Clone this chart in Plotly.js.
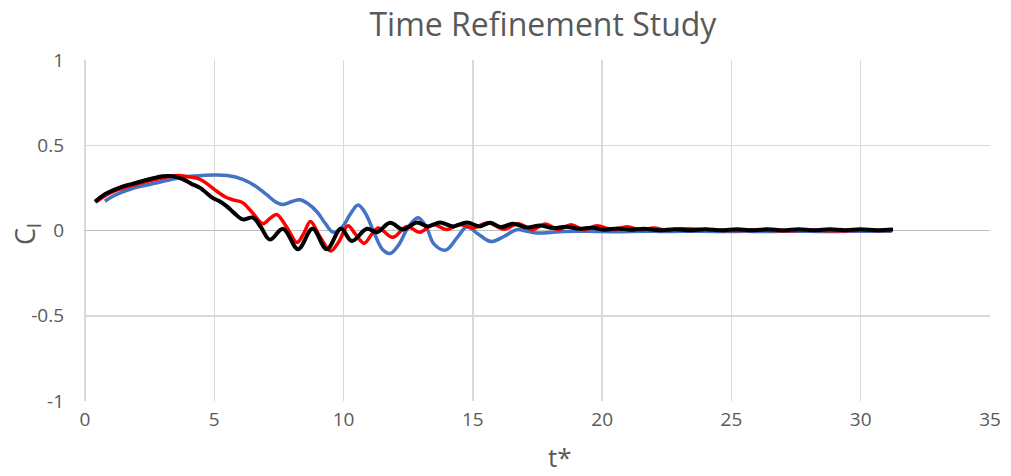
<!DOCTYPE html>
<html>
<head>
<meta charset="utf-8">
<script src="https://cdn.plot.ly/plotly-3.0.1.min.js"></script>
<style>html,body{margin:0;padding:0;background:#fff;}#chart{width:1011px;height:476px;}</style>
</head>
<body>
<div id="chart"></div>
<script>
// Series: coarse time step (blue)
const blueT  = [0.77,1.2,1.8,2.5,3.2,3.9,4.5,5.0,5.5,6.1,6.6,7.03,7.4,7.66,8.0,8.31,8.6,8.97,9.3,9.6,9.95,10.25,10.56,10.85,11.2,11.5,11.8,12.15,12.5,12.88,13.2,13.5,13.95,14.4,14.77,15.2,15.7,16.2,16.7,17.1,17.5,18.0,18.5,19.5,20.5,21.5,22.5,23.5,24.5,25.5,26.5,27.5,28.5,29.5,30.5,31.2];
const blueCl = [0.172,0.21,0.245,0.27,0.295,0.315,0.322,0.325,0.322,0.30,0.26,0.21,0.165,0.153,0.17,0.18,0.16,0.11,0.04,-0.01,0.02,0.094,0.15,0.10,-0.02,-0.11,-0.135,-0.08,0.02,0.075,0.02,-0.08,-0.115,-0.04,0.022,-0.02,-0.065,-0.035,0.005,-0.005,-0.015,-0.012,-0.006,-0.005,-0.008,-0.004,-0.006,-0.004,-0.006,-0.005,-0.006,-0.004,-0.006,-0.005,-0.005,-0.004];

// Series: medium time step (red)
const redT  = [0.45,0.9,1.5,2.2,2.9,3.55,4.0,4.45,4.8,5.1,5.45,5.72,6.1,6.5,6.88,7.15,7.41,7.8,8.2,8.45,8.72,9.1,9.5,9.8,10.17,10.45,10.8,11.1,11.35,11.9,12.45,12.95,13.46,13.99,14.5,15.0,15.6,16.2,16.75,17.3,17.8,18.3,18.8,19.3,19.8,20.4,20.96,21.5,22.0,22.5,23.0,24.0,25.0,26.0,27.0,28.0,29.0,30.0,31.2];
const redCl = [0.17,0.215,0.25,0.28,0.305,0.322,0.315,0.30,0.265,0.23,0.195,0.18,0.163,0.10,0.04,0.07,0.094,0.02,-0.07,-0.02,0.053,-0.04,-0.12,-0.07,0.028,-0.02,-0.075,-0.02,0.015,-0.04,0.024,-0.01,0.035,0.006,0.035,0.015,0.045,0.008,0.04,0.006,0.038,0.006,0.033,0.004,0.028,0.004,0.022,0.002,0.015,0.0,0.01,0.006,0.0,0.004,-0.002,0.003,-0.002,0.002,0.0];

// Series: fine time step (black)
const blackT  = [0.39,0.8,1.4,2.0,2.6,3.0,3.4,3.8,4.1,4.45,4.95,5.22,5.5,5.75,6.1,6.5,6.8,7.15,7.66,8.24,8.8,9.35,9.9,10.32,10.9,11.29,11.8,12.3,12.84,13.26,13.73,14.23,14.77,15.27,15.66,16.1,16.55,17.1,17.6,18.1,18.6,19.1,19.6,20.1,20.6,21.1,21.6,22.2,22.8,23.4,24.0,24.6,25.2,25.8,26.4,27.0,27.6,28.2,28.8,29.4,30.0,30.6,31.25];
const blackCl = [0.168,0.215,0.255,0.28,0.305,0.318,0.318,0.30,0.275,0.25,0.19,0.17,0.14,0.105,0.065,0.076,0.02,-0.053,0.01,-0.11,0.01,-0.11,0.01,-0.062,0.01,-0.01,0.045,0.006,0.047,0.024,0.047,0.024,0.047,0.024,0.045,0.02,0.04,0.018,0.03,0.014,0.022,0.01,0.016,0.005,0.012,0.004,0.01,0.002,0.008,0.001,0.008,0.001,0.007,0.001,0.007,0.001,0.007,0.001,0.007,0.002,0.007,0.002,0.006];

// Tick labels
const xTickVals = [0,5,10,15,20,25,30,35];
const xTickText = ['0','5','10','15','20','25','30','35'];
const yTickVals = [-1,-0.5,0,0.5,1];
const yTickText = ['-1','-0.5','0','0.5','1'];

const chartTitle = 'Time Refinement Study';
const xTitle = 't*';
const yTitle = 'C<sub>l</sub>';

const FONT = 'Open Sans, Noto Sans, Liberation Sans, sans-serif';
const GRAY = '#595959';

const traces = [
  {x: blueT, y: blueCl, mode: 'lines', line: {color: '#4472C4', width: 3.5, shape: 'spline', smoothing: 1}, name: 'blue'},
  {x: redT, y: redCl, mode: 'lines', line: {color: '#FF0000', width: 3.5, shape: 'spline', smoothing: 1}, name: 'red'},
  {x: blackT, y: blackCl, mode: 'lines', line: {color: '#000000', width: 4, shape: 'spline', smoothing: 1}, name: 'black'}
];

const layout = {
  width: 1011, height: 476,
  margin: {l: 85, r: 21, t: 60, b: 75},
  paper_bgcolor: '#ffffff', plot_bgcolor: '#ffffff',
  showlegend: false,
  font: {family: FONT, color: GRAY, size: 19},
  title: {text: chartTitle, font: {family: FONT, size: 32, color: GRAY}, xref: 'paper', x: 0.506, xanchor: 'center', yref: 'container', y: 0.948, yanchor: 'middle'},
  xaxis: {
    range: [0, 35], tickmode: 'array', tickvals: xTickVals, ticktext: xTickText,
    showgrid: true, gridcolor: '#d9d9d9', gridwidth: 1.5,
    zeroline: true, zerolinecolor: '#d9d9d9', zerolinewidth: 1.5,
    showline: false, ticks: '', ticklabelstandoff: 5,
    tickfont: {family: FONT, size: 19, color: GRAY}, fixedrange: true
  },
  yaxis: {
    range: [-1, 1], tickmode: 'array', tickvals: yTickVals, ticktext: yTickText,
    showgrid: true, gridcolor: '#d9d9d9', gridwidth: 1.5,
    zeroline: true, zerolinecolor: '#bfbfbf', zerolinewidth: 1.8,
    showline: false, ticks: '', ticklabelstandoff: 20,
    tickfont: {family: FONT, size: 19, color: GRAY}, fixedrange: true
  },
  annotations: [
    {text: xTitle, xref: 'paper', yref: 'paper', x: (560-85)/905, y: -(457-401)/341, xanchor: 'center', yanchor: 'middle', showarrow: false, font: {family: FONT, size: 26, color: GRAY}},
    {text: yTitle, xref: 'paper', yref: 'paper', x: -(85-27)/905, y: 0.49, xanchor: 'center', yanchor: 'middle', textangle: -90, showarrow: false, font: {family: FONT, size: 27, color: GRAY}}
  ]
};

Plotly.newPlot('chart', traces, layout, {displayModeBar: false, staticPlot: true});
</script>
</body>
</html>
